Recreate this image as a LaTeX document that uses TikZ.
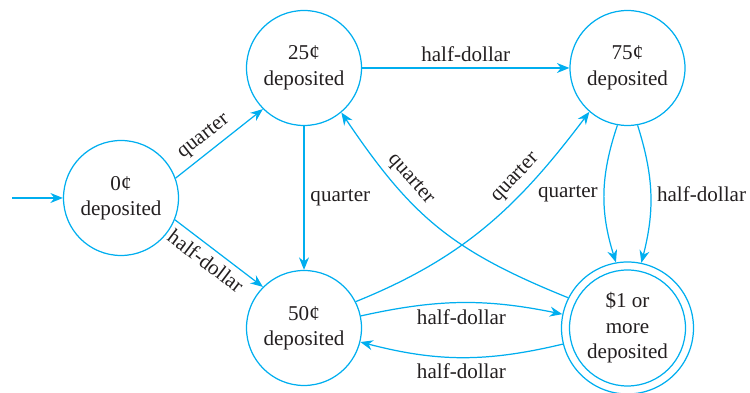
\documentclass[tikz,border=0pt]{standalone}
\usepackage{fontspec}
\setmainfont{Liberation Serif}
\usepackage{xcolor}
\usetikzlibrary{arrows.meta}
\definecolor{linecyan}{RGB}{0,174,239}
\definecolor{inkgray}{RGB}{35,31,32}

\begin{document}
\begin{tikzpicture}[
  state/.style={circle, draw=linecyan, line width=0.7pt, minimum size=2.3cm,
                align=center, inner sep=0pt, text=inkgray},
  final/.style={state, minimum size=2.64cm},
  arrow/.style={draw=linecyan, line width=0.7pt, -{Stealth[length=2.5mm, width=2mm]}},
  lbl/.style={text=inkgray},
  font=\fontsize{12pt}{14.5pt}\selectfont
]
  \useasboundingbox (0, 0) rectangle (15, 7.86);
  % states
  \node[state] (c0) at (2.42, 3.90) {0¢\\deposited};
  \node[state] (c25) at (6.08, 6.50) {25¢\\deposited};
  \node[state] (c75) at (12.55, 6.50) {75¢\\deposited};
  \node[state] (c50) at (6.08, 1.30) {50¢\\deposited};
  \node[final] (c100) at (12.55, 1.30) {\$1 or\\more\\deposited};
  \draw[linecyan, line width=0.7pt] (c100) circle[radius=1.16];
  % start
  \coordinate (entry) at (0.24, 3.90);
  \draw[arrow] (entry) -- (c0);
  % straight moves
  \draw[arrow] (c0.20) -- node[lbl, above, sloped, pos=0.43] {quarter} (c25.225);
  \draw[arrow] (c0.-22) -- node[lbl, below, sloped, pos=0.45] {half-dollar} (c50.135);
  \draw[arrow] (c25) -- node[lbl, right] {quarter} (c50);
  \draw[arrow] (c25) -- node[lbl, above] {half-dollar} (c75);
  % curved moves
  \draw[arrow] (c75.-100) to[bend right=18] node[lbl, left] {quarter} (c100.100);
  \draw[arrow] (c75.-80) to[bend left=16] node[lbl, right] {half-dollar} (c100.78);
  \draw[arrow] (c50.27) to[out=22, in=233] node[lbl, above, sloped, pos=0.69] {quarter} (c75.229);
  \draw[arrow] (c100.153) to[out=158, in=-56, looseness=1.1] node[lbl, above, sloped, pos=0.7] {quarter} (c25.-50);
  \draw[arrow] (c50) to[bend left=12] node[lbl, below] {half-dollar} (c100);
  \draw[arrow] (c100) to[bend left=14] node[lbl, below] {half-dollar} (c50);
\end{tikzpicture}
\end{document}
